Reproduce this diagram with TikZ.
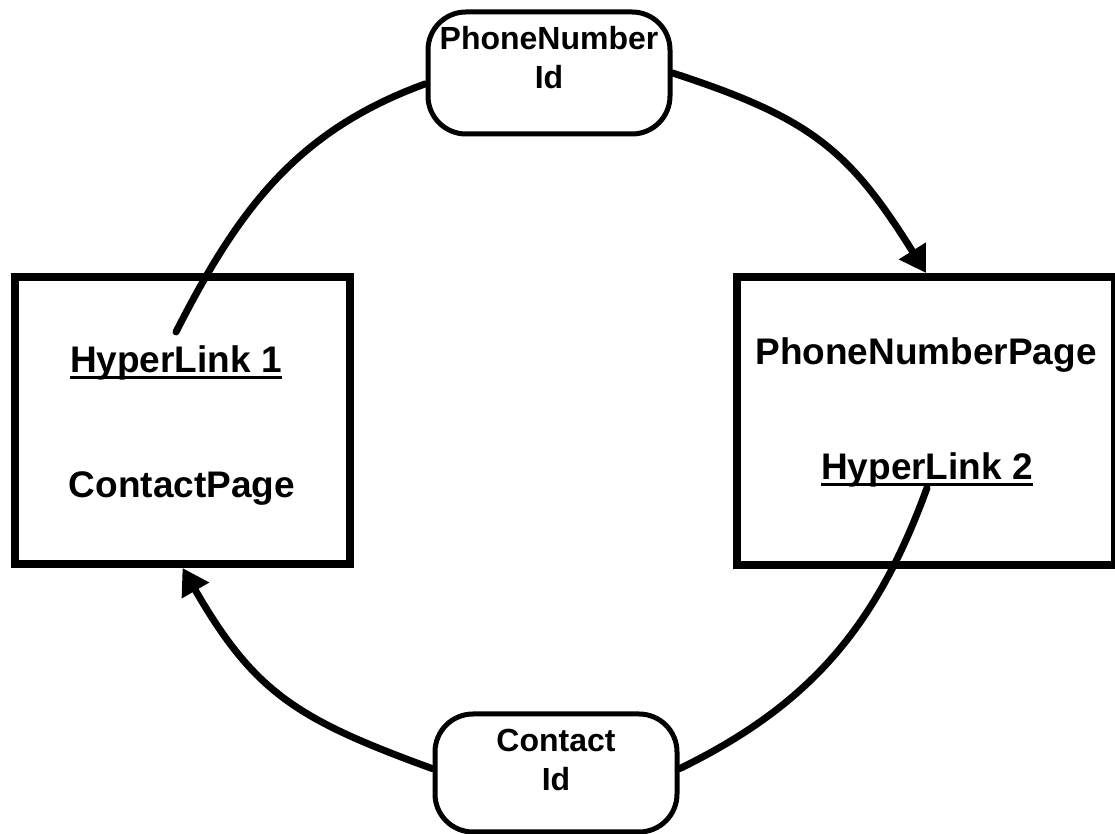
\documentclass[tikz,border=0pt]{standalone}
\usepackage{fontspec}
\setmainfont{Liberation Sans}
\usetikzlibrary{arrows.meta}
\tikzset{
  page/.style={draw, line width=8pt, rectangle, inner sep=0pt},
  idbox/.style={draw, line width=5pt, rounded corners=38pt, inner sep=0pt,
    minimum width=242pt, text height=38pt,
    font=\fontsize{32}{39}\selectfont\bfseries},
  title/.style={inner sep=0pt, anchor=base, font=\fontsize{37}{44}\selectfont\bfseries},
  link/.style={title},
  underlined/.style={line width=3pt},
  conn/.style={line width=7pt, line cap=round},
}
\begin{document}
\begin{tikzpicture}[x=1pt, y=1pt, >={Triangle[length=26pt, width=30pt]}]
    \useasboundingbox (0,0) rectangle (1115,834);
    \node[page, minimum width=335pt, minimum height=287pt] (contact) at (182.5,413.5) {};
    \node[page, minimum width=378pt, minimum height=288pt] (phone) at (926,413) {};
    \node[link] (link1) at (176,461) {HyperLink 1};
    \node[title] (contacttitle) at (182,336) {ContactPage};
    \node[title] (phonetitle) at (926,469) {PhoneNumberPage};
    \node[link] (link2) at (927,354) {HyperLink 2};
    \node[idbox, text depth=84pt] (phoneid) at (549,761) {\begin{tabular}[t]{c}PhoneNumber\\Id\end{tabular}};
    \node[idbox, text depth=80pt] (contactid) at (556,61) {\begin{tabular}[t]{c}Contact\\Id\end{tabular}};
    \draw[underlined] ([yshift=-5pt]link1.base west) -- ([yshift=-5pt]link1.base east);
    \draw[underlined] ([yshift=-5pt]link2.base west) -- ([yshift=-5pt]link2.base east);
    \draw[conn] ([yshift=14pt]link1.north) to[out=63, in=200] (phoneid.185);
    \draw[conn, ->] (phoneid.east) to[out=-18, in=122, looseness=1.15] (phone.north);
    \draw[conn] (link2.south) to[out=250, in=26] (contactid.2);
    \draw[conn, ->] (contactid.178) to[out=160, in=300, looseness=1.15] (contact.south);
\end{tikzpicture}
\end{document}
